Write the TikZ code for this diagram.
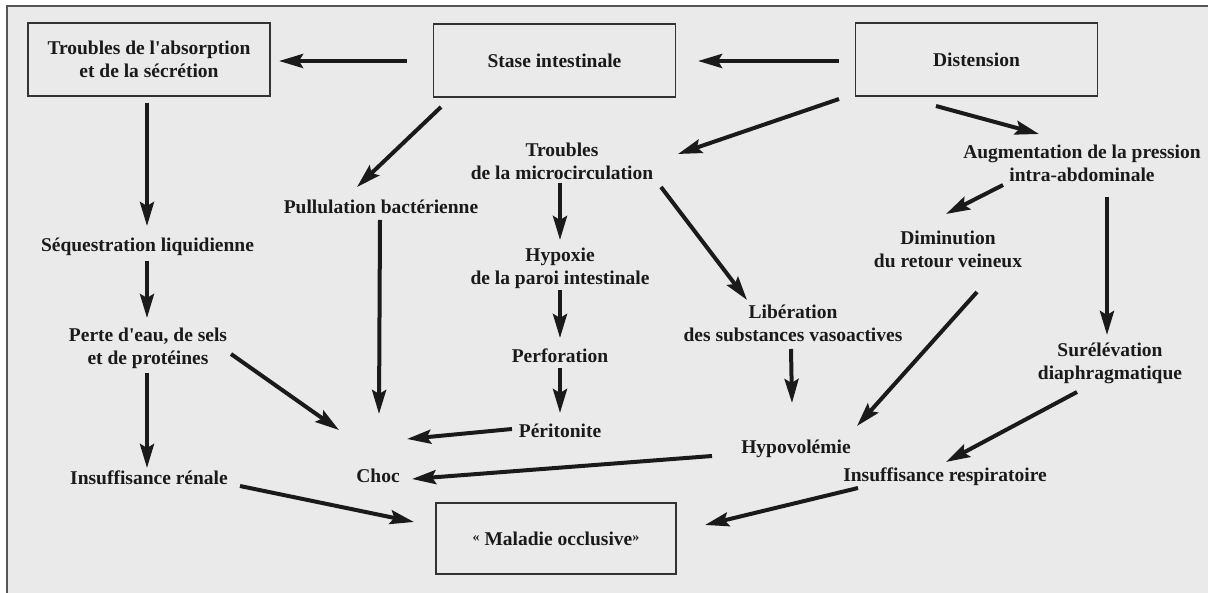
\documentclass[tikz,border=0pt]{standalone}
\usepackage{fontspec}
\setmainfont{Liberation Serif}
\newfontfamily\dfont{Liberation Serif}
\usetikzlibrary{arrows.meta,calc}
\definecolor{bg}{HTML}{EAEAEA}
\definecolor{ink}{HTML}{1A1A1A}
\definecolor{framec}{HTML}{555555}
\definecolor{boxc}{HTML}{333333}
\newcommand{\gq}[1]{{\fontsize{14}{14}\selectfont\raisebox{4pt}{#1}}}
\begin{document}
\begin{tikzpicture}[x=1pt,y=-1pt,
  lbl/.style={font=\dfont\bfseries\fontsize{19.5}{23}\selectfont, text=ink, align=center, inner sep=0pt},
  box/.style={lbl, draw=boxc, line width=1.4pt, minimum width=242pt, minimum height=73pt},
  arr/.style={draw=ink, line width=4pt, -{Stealth[length=24pt,width=14pt,inset=4pt]}}]
\useasboundingbox (0,0) rectangle (1208,593);
\fill[white] (0,0) rectangle (1208,593);
\fill[bg] (7,6.5) rectangle (1208,593);
\draw[framec, line width=2pt] (7,593) -- (7,6.5) -- (1208,6.5);

% boxes
\node[box] (abs) at (149,59.5) {Troubles de l'absorption\\et de la sécrétion};
\node[box] (stase) at (554.5,60.5) {Stase intestinale};
\node[box] (dist) at (976.5,59.5) {Distension};
\node[box, minimum width=240pt, minimum height=71pt] (mal) at (556,538.5) {\gq{«}~Maladie occlusive\gq{»}};

% text nodes
\node[lbl] (seq) at (147.5,247) {Séquestration liquidienne};
\node[lbl] (perte) at (148,348) {Perte d'eau, de sels\\et de protéines};
\node[lbl] (insr) at (149,478) {Insuffisance rénale};
\node[lbl] (pull) at (381,207) {Pullulation bactérienne};
\node[lbl] (choc) at (378,476) {Choc};
\node[lbl] (micro) at (562,161) {Troubles\\de la microcirculation};
\node[lbl] (hyp) at (560,268) {Hypoxie\\de la paroi intestinale};
\node[lbl] (perf) at (560,356) {Perforation};
\node[lbl] (perit) at (560,431) {Péritonite};
\node[lbl] (lib) at (793,323) {Libération\\des substances vasoactives};
\node[lbl] (hypo) at (796,449) {Hypovolémie};
\node[lbl] (aug) at (1082,163) {Augmentation de la pression\\intra-abdominale};
\node[lbl] (dim) at (948,249) {Diminution\\du retour veineux};
\node[lbl] (sur) at (1110,363) {Surélévation\\diaphragmatique};
\node[lbl] (insp) at (945,477) {Insuffisance respiratoire};

% connectors
\draw[arr] ($(stase)+(-147.5,0.5)$) -- ($(abs)+(130,1.5)$);
\draw[arr] ($(dist)+(-137.5,1.5)$) -- ($(stase)+(143.5,0.5)$);
\draw[arr] ($(abs)+(-2,43.5)$) -- ($(seq)+(-0.5,-21)$);
\draw[arr] ($(seq)+(-0.5,14)$) -- ($(perte)+(-1,-30)$);
\draw[arr] ($(perte)+(-1,25)$) -- ($(insr)+(-2,-10)$);
\draw[arr] ($(insr)+(91,8)$) -- ($(mal)+(-142,-16.5)$);
\draw[arr] ($(perte)+(83,6)$) -- ($(choc)+(-39,-46)$);
\draw[arr] ($(stase)+(-113.5,46.5)$) -- ($(pull)+(-24,-20)$);
\draw[arr] ($(pull)+(-1,13)$) -- ($(choc)+(1,-62)$);
\draw[arr] ($(perit)+(-48,-2)$) -- ($(choc)+(29,-37)$);
\draw[arr] ($(hypo)+(-84,7)$) -- ($(choc)+(34,3)$);
\draw[arr] ($(dist)+(-137.5,39.5)$) -- ($(micro)+(116,-7)$);
\draw[arr] ($(micro)+(-2,22)$) -- ($(hyp)+(0,-28)$);
\draw[arr] ($(hyp)+(0,22)$) -- ($(perf)+(0,-18)$);
\draw[arr] ($(perf)+(0,12)$) -- ($(perit)+(0,-18)$);
\draw[arr] ($(micro)+(99,26)$) -- ($(lib)+(-46,-23)$);
\draw[arr] ($(lib)+(-2,26)$) -- ($(hypo)+(-4,-46)$);
\draw[arr] ($(dist)+(-40.5,46.5)$) -- ($(aug)+(-43,-29)$);
\draw[arr] ($(aug)+(-79,22)$) -- ($(dim)+(-2,-35)$);
\draw[arr] ($(aug)+(25,34)$) -- ($(sur)+(-3,-28)$);
\draw[arr] ($(dim)+(29,43)$) -- ($(hypo)+(61,-23)$);
\draw[arr] ($(sur)+(-33,29)$) -- ($(insp)+(1,-15)$);
\draw[arr] ($(insp)+(-87,11)$) -- ($(mal)+(149,-13.5)$);
\end{tikzpicture}
\end{document}
